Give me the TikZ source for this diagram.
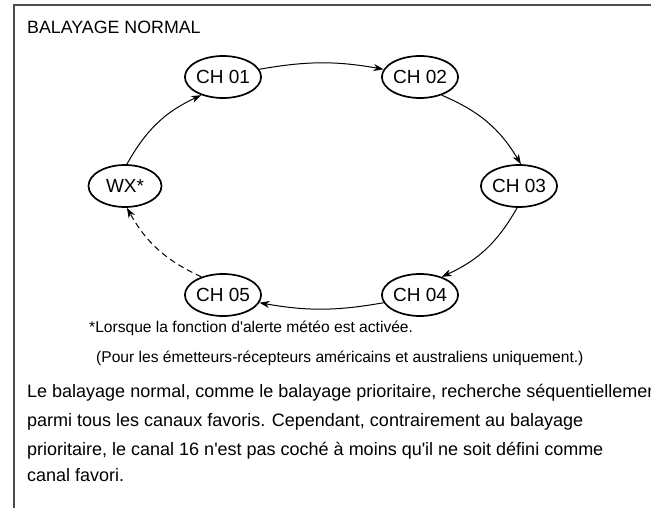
\documentclass[tikz,border=0pt]{standalone}
\usepackage{fontspec}
\setmainfont{Liberation Sans}
\usetikzlibrary{arrows.meta,shapes.geometric}
\newcommand{\apos}{\textquotesingle}
\begin{document}
\begin{tikzpicture}[x=1pt,y=-1pt,
  chan/.style={draw,ellipse,line width=1.7pt,minimum width=73pt,minimum height=42pt,inner sep=0pt,font=\fontsize{19}{19}\selectfont},
  flow/.style={line width=1pt,-{Stealth[length=10pt,width=7pt,inset=3pt]}},
  dashflow/.style={flow,dash pattern=on 6pt off 4pt},
  txt/.style={anchor=base west,inner sep=0pt}]
\useasboundingbox (0,0) rectangle (651,508);
\draw[line width=1.5pt,black!70] (14,512) -- (14,5) -- (655,5);
\node[txt,font=\fontsize{17.8}{17.8}\selectfont] (title) at (27,34) {BALAYAGE NORMAL};
\node[chan] (c1) at (223,77) {CH 01};
\node[chan] (c2) at (420,77) {CH 02};
\node[chan] (c3) at (519,186) {CH 03};
\node[chan] (c4) at (420,295) {CH 04};
\node[chan] (c5) at (223,295) {CH 05};
\node[chan] (wx) at (125,186) {WX*};
\draw[flow] (c1.12) to[bend left=10] (c2.168);
\draw[flow] (c2.-40) to[bend left=18] (c3.85);
\draw[flow] (c3.-95) to[bend left=18] (c4.40);
\draw[flow] (c4.-168) to[bend left=10] (c5.-12);
\draw[dashflow] (c5.140) to[bend left=18] (wx.-85);
\draw[flow] (wx.85) to[bend left=18] (c1.-140);
\node[txt,font=\fontsize{15.6}{15.6}\selectfont] (fn1) at (89,332) {*Lorsque la fonction d\apos alerte météo est activée.};
\node[txt,font=\fontsize{15.6}{15.6}\selectfont] (fn2) at (96,362) {(Pour les émetteurs-récepteurs américains et australiens uniquement.)};
\node[txt,font=\fontsize{18}{18}\selectfont] (p1) at (27,397) {Le balayage normal, comme le balayage prioritaire, recherche séquentiellement};
\node[txt,font=\fontsize{18}{18}\selectfont] (p2) at (27,426) {parmi tous les canaux favoris. Cependant, contrairement au balayage};
\node[txt,font=\fontsize{18}{18}\selectfont] (p3) at (27,455) {prioritaire, le canal 16 n\apos est pas coché à moins qu\apos il ne soit défini comme};
\node[txt,font=\fontsize{18}{18}\selectfont] (p4) at (27,481) {canal favori.};
\end{tikzpicture}
\end{document}
